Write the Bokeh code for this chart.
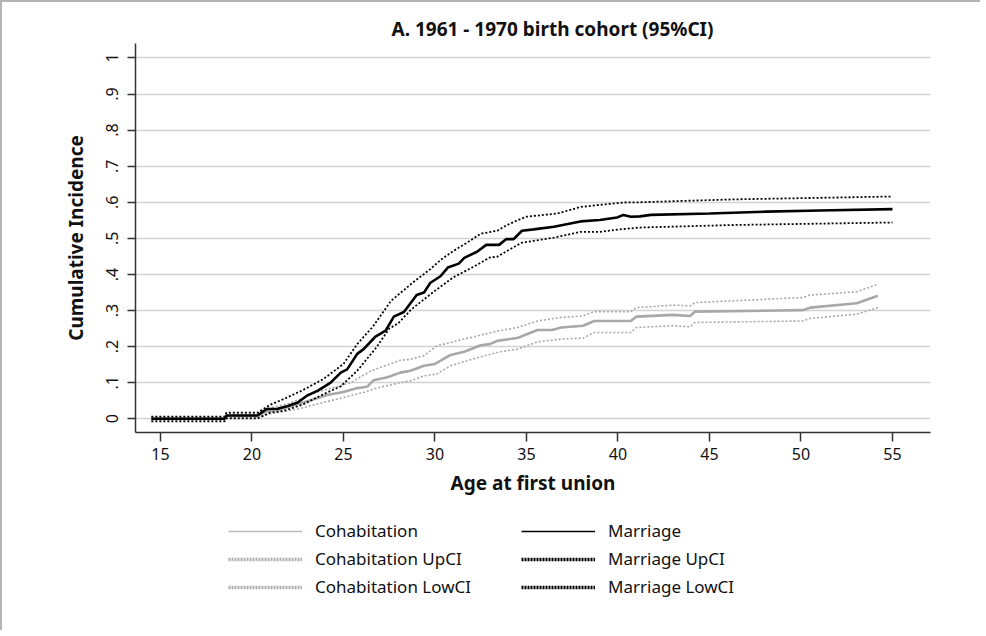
from bokeh.plotting import figure
from bokeh.models import Range1d, FixedTicker, Legend, LegendItem
from bokeh.layouts import column
from bokeh.embed import file_html
from bokeh.resources import INLINE

TITLE = "A. 1961 - 1970 birth cohort (95%CI)"
X_LABEL = "Age at first union"
Y_LABEL = "Cumulative Incidence"
X_TICKS = [15, 20, 25, 30, 35, 40, 45, 50, 55]
Y_TICKS = [0, 0.1, 0.2, 0.3, 0.4, 0.5, 0.6, 0.7, 0.8, 0.9, 1]
Y_LABELS = ["0", ".1", ".2", ".3", ".4", ".5", ".6", ".7", ".8", ".9", "1"]

# Marriage
M_AGE = [14.5, 18.5, 18.6, 20.3, 20.8, 21.4, 22.0, 22.5, 23.0, 23.6, 24.3, 24.85, 25.2, 25.75,
         26.1, 26.75, 27.3, 27.75, 28.3, 29.0, 29.4, 29.75, 30.3, 30.7, 31.3, 31.6, 32.3, 32.8,
         33.5, 33.9, 34.3, 34.75, 35.4, 36.5, 37.95, 39.0, 39.95, 40.3, 40.7, 41.2, 41.8, 45.0,
         48.15, 51.0, 55.0]
M_VAL = [0, 0, 0.009, 0.009, 0.027, 0.028, 0.036, 0.045, 0.064, 0.078, 0.10, 0.128, 0.137, 0.18,
         0.193, 0.228, 0.244, 0.283, 0.296, 0.343, 0.35, 0.377, 0.395, 0.419, 0.43, 0.446, 0.463,
         0.482, 0.482, 0.498, 0.498, 0.521, 0.525, 0.532, 0.547, 0.551, 0.558, 0.565, 0.56, 0.561,
         0.565, 0.569, 0.574, 0.577, 0.581]
MU_AGE = [14.5, 18.5, 18.6, 20.3, 21.0, 21.75, 22.8, 23.9, 25.0, 25.75, 26.6, 27.6, 28.8, 29.75,
          30.3, 31.0, 31.75, 32.5, 33.4, 33.95, 34.5, 35.0, 36.7, 37.95, 39.4, 40.5, 41.2, 46.3, 55.0]
MU_VAL = [0.006, 0.006, 0.017, 0.017, 0.039, 0.055, 0.08, 0.11, 0.152, 0.207, 0.255, 0.327, 0.378,
          0.415, 0.44, 0.465, 0.488, 0.513, 0.521, 0.537, 0.55, 0.56, 0.569, 0.587, 0.595, 0.6, 0.6,
          0.608, 0.616]
ML_AGE = [14.5, 18.5, 18.6, 20.3, 21.0, 21.75, 22.8, 23.9, 24.85, 25.75, 26.8, 27.5, 28.0, 28.7,
          29.75, 30.3, 31.0, 32.1, 33.0, 33.4, 34.1, 34.75, 36.5, 37.95, 39.0, 40.1, 41.2, 46.3, 55.0]
ML_VAL = [-0.007, -0.007, 0.001, 0.001, 0.017, 0.022, 0.04, 0.068, 0.09, 0.133, 0.198, 0.25, 0.265,
          0.303, 0.345, 0.366, 0.392, 0.421, 0.447, 0.449, 0.47, 0.488, 0.502, 0.518, 0.518, 0.525,
          0.53, 0.537, 0.544]

# Cohabitation
C_AGE = [14.5, 18.5, 18.6, 20.3, 20.8, 21.5, 22.1, 22.8, 23.5, 24.1, 25.0, 25.75, 26.3, 26.65,
         27.4, 28.1, 28.66, 29.4, 30.0, 30.85, 31.6, 32.5, 33.0, 33.4, 34.5, 35.6, 36.4, 36.9,
         38.1, 38.7, 40.7, 41.0, 43.0, 43.95, 44.2, 50.1, 50.5, 53.05, 54.2]
C_VAL = [0, 0, 0.008, 0.008, 0.02, 0.025, 0.035, 0.045, 0.056, 0.066, 0.074, 0.085, 0.089, 0.107,
         0.115, 0.128, 0.133, 0.147, 0.152, 0.177, 0.186, 0.204, 0.207, 0.216, 0.224, 0.246, 0.246,
         0.253, 0.258, 0.271, 0.271, 0.283, 0.288, 0.285, 0.297, 0.301, 0.308, 0.32, 0.341]
CU_AGE = [14.5, 18.5, 18.6, 20.3, 21.0, 22.0, 22.8, 23.6, 24.5, 25.4, 26.5, 27.0, 28.1, 28.66,
          29.4, 30.1, 31.2, 32.5, 33.5, 34.5, 35.6, 36.9, 38.1, 38.7, 40.7, 41.0, 43.0, 43.95,
          44.2, 50.1, 50.5, 53.05, 54.2]
CU_VAL = [0.005, 0.005, 0.015, 0.015, 0.03, 0.042, 0.058, 0.075, 0.087, 0.1, 0.133, 0.142, 0.162,
          0.165, 0.175, 0.202, 0.216, 0.232, 0.244, 0.253, 0.271, 0.281, 0.285, 0.297, 0.297,
          0.308, 0.315, 0.313, 0.322, 0.336, 0.343, 0.352, 0.373]
CL_AGE = [14.5, 18.5, 18.6, 20.3, 21.0, 22.5, 23.9, 25.0, 26.1, 26.8, 28.1, 28.66, 29.4, 30.1,
          30.85, 32.5, 33.6, 34.5, 35.6, 36.9, 38.1, 38.7, 40.7, 41.0, 43.0, 43.95, 44.2, 50.1,
          50.5, 53.05, 54.2]
CL_VAL = [-0.004, -0.004, 0.003, 0.003, 0.014, 0.027, 0.045, 0.059, 0.073, 0.085, 0.1, 0.105,
          0.119, 0.124, 0.147, 0.172, 0.186, 0.193, 0.213, 0.221, 0.224, 0.239, 0.239, 0.253,
          0.258, 0.255, 0.267, 0.271, 0.278, 0.29, 0.308]

LEG_LEFT = ["Cohabitation", "Cohabitation UpCI", "Cohabitation LowCI"]
LEG_RIGHT = ["Marriage", "Marriage UpCI", "Marriage LowCI"]

FONT = "Noto Sans"
NAN = float("nan")

p = figure(width=980, height=505, output_backend="svg", toolbar_location=None,
           x_range=Range1d(13.634, 57.077), y_range=Range1d(-0.038, 1.04),
           min_border_left=135, min_border_right=50, min_border_top=43, min_border_bottom=73)
p.outline_line_color = None
p.background_fill_color = "white"
p.border_fill_color = None

p.title.text = TITLE
p.title.align = "left"
p.title.offset = 256
p.title.standoff = 4
p.title.text_font = FONT
p.title.text_font_size = "19px"
p.title.text_font_style = "bold"
p.title.text_color = "#111111"

p.xgrid.visible = False
p.ygrid.ticker = FixedTicker(ticks=Y_TICKS)
p.ygrid.grid_line_color = "#d2d2d2"
p.ygrid.grid_line_width = 1.5

p.xaxis.ticker = FixedTicker(ticks=X_TICKS)
p.yaxis.ticker = FixedTicker(ticks=Y_TICKS)
p.yaxis.major_label_overrides = {t: l for t, l in zip(Y_TICKS, Y_LABELS)}
p.yaxis.major_label_orientation = "vertical"

for ax in (p.xaxis, p.yaxis):
    ax.axis_line_color = "#333333"
    ax.axis_line_width = 1.5
    ax.major_tick_line_color = "#333333"
    ax.major_tick_line_width = 1.5
    ax.minor_tick_line_color = None
    ax.major_tick_in = 0
    ax.major_label_text_font = FONT
    ax.major_label_text_font_size = "16px"
    ax.major_label_text_color = "#111111"
    ax.axis_label_text_font = FONT
    ax.axis_label_text_font_style = "bold"
    ax.axis_label_text_color = "#111111"
    ax.axis_label_text_font_size = "19px"

p.xaxis.major_tick_out = 9
p.xaxis.major_label_standoff = 6
p.xaxis.axis_label = X_LABEL
p.xaxis.axis_label_standoff = 7
p.yaxis.major_tick_out = 8
p.yaxis.major_label_standoff = 9
p.yaxis.axis_label = Y_LABEL
p.yaxis.axis_label_standoff = 15

GRAY = "#a8a8a8"
p.line(CU_AGE, CU_VAL, line_color=GRAY, line_width=1.6, line_dash="2 2")
p.line(CL_AGE, CL_VAL, line_color=GRAY, line_width=1.6, line_dash="2 2")
p.line(C_AGE, C_VAL, line_color=GRAY, line_width=2.6)
p.line(MU_AGE, MU_VAL, line_color="black", line_width=1.8, line_dash="2 2")
p.line(ML_AGE, ML_VAL, line_color="black", line_width=1.8, line_dash="2 2")
p.line(M_AGE, M_VAL, line_color="black", line_width=2.6)

# legend panel: a second figure holding only the legend
q = figure(width=980, height=125, output_backend="svg", toolbar_location=None,
           x_range=Range1d(0, 1), y_range=Range1d(0, 1),
           min_border_left=0, min_border_right=0, min_border_top=0, min_border_bottom=0)
q.axis.visible = False
q.grid.visible = False
q.outline_line_color = None
q.background_fill_color = None
q.border_fill_color = None

lc0 = q.line([NAN], [NAN], line_color="#bdbdbd", line_width=1.5)
lc1 = q.line([NAN], [NAN], line_color="#b0b0b0", line_width=3.5, line_dash="2 1")
lc2 = q.line([NAN], [NAN], line_color="#b0b0b0", line_width=3.5, line_dash="2 1")
lm0 = q.line([NAN], [NAN], line_color="black", line_width=1.5)
lm1 = q.line([NAN], [NAN], line_color="black", line_width=3.5, line_dash="2 1")
lm2 = q.line([NAN], [NAN], line_color="black", line_width=3.5, line_dash="2 1")


def make_legend(labels, rends, loc):
    lg = Legend(items=[LegendItem(label=l, renderers=[r]) for l, r in zip(labels, rends)],
                location=loc, orientation="vertical")
    lg.glyph_width = 74
    lg.glyph_height = 20
    lg.label_height = 20
    lg.label_standoff = 13
    lg.spacing = 5
    lg.padding = 0
    lg.margin = 0
    lg.border_line_color = None
    lg.background_fill_alpha = 0
    lg.label_text_font = FONT
    lg.label_text_font_size = "17px"
    lg.label_text_color = "#111111"
    return lg


q.add_layout(make_legend(LEG_LEFT, [lc0, lc1, lc2], (93, 32)))
q.add_layout(make_legend(LEG_RIGHT, [lm0, lm1, lm2], (386, 32)))

layout = column(p, q, spacing=0)
layout.styles = {"background-color": "white", "box-shadow": "inset 2px 2px 0 0 #b4b4b4"}

open("out.html", "w").write(file_html(layout, INLINE))
